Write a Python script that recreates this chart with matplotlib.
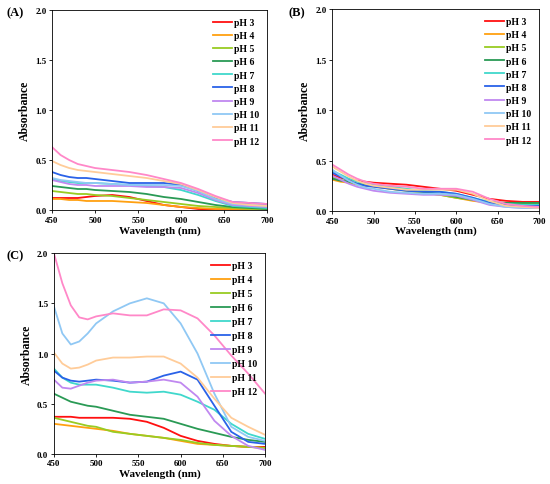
import matplotlib
matplotlib.use('Agg')
import matplotlib.pyplot as plt

plt.rcParams['font.family'] = ['Liberation Serif', 'DejaVu Serif']
plt.rcParams['font.weight'] = 'bold'

wl = [450, 460, 470, 480, 490, 500, 520, 540, 560, 580, 600, 620, 640, 660, 680, 700]
labels = ['pH 3', 'pH 4', 'pH 5', 'pH 6', 'pH 7', 'pH 8', 'pH 9', 'pH 10', 'pH 11', 'pH 12']
colors = ['#ff1010', '#ffa010', '#99cc22', '#2a9a55', '#40d8cc', '#2a62e8',
          '#c088f0', '#90c8f4', '#ffcc99', '#ff88c8']

# panel (A)
absA = [
    [.12, .12, .12, .12, .13, .14, .15, .13, .09, .05, .03, .01, .005, 0, 0, 0],
    [.11, .11, .10, .10, .09, .09, .09, .08, .07, .05, .03, .02, .01, .01, .01, .01],
    [.19, .18, .17, .16, .16, .15, .14, .12, .10, .08, .06, .04, .03, .02, .01, .01],
    [.24, .23, .22, .21, .21, .20, .19, .18, .16, .13, .11, .08, .05, .03, .02, .01],
    [.31, .29, .28, .27, .27, .27, .26, .25, .24, .23, .20, .15, .09, .04, .03, .02],
    [.38, .35, .33, .32, .32, .31, .29, .27, .27, .27, .25, .19, .12, .08, .07, .06],
    [.30, .28, .26, .25, .25, .24, .24, .24, .23, .23, .22, .17, .10, .05, .04, .03],
    [.32, .30, .29, .28, .27, .27, .26, .25, .25, .25, .24, .19, .11, .06, .05, .04],
    [.49, .45, .42, .40, .39, .38, .36, .34, .32, .29, .26, .20, .13, .07, .05, .04],
    [.63, .55, .50, .46, .44, .42, .40, .38, .35, .31, .27, .21, .14, .08, .07, .06],
]

# panel (B)
absB = [
    [.36, .33, .31, .30, .29, .28, .27, .26, .24, .22, .20, .16, .12, .10, .09, .09],
    [.31, .29, .28, .26, .25, .24, .22, .20, .18, .16, .13, .10, .08, .07, .06, .06],
    [.33, .31, .29, .27, .26, .25, .22, .20, .18, .16, .13, .11, .08, .07, .07, .07],
    [.32, .30, .29, .27, .26, .25, .23, .21, .19, .17, .14, .11, .09, .08, .08, .08],
    [.40, .36, .32, .29, .27, .26, .24, .22, .20, .19, .17, .13, .09, .07, .06, .06],
    [.38, .34, .30, .27, .25, .24, .22, .20, .19, .19, .17, .13, .08, .06, .05, .05],
    [.35, .31, .27, .24, .22, .20, .18, .17, .16, .16, .15, .11, .06, .04, .03, .03],
    [.41, .35, .30, .26, .23, .22, .19, .18, .17, .17, .16, .12, .07, .04, .03, .03],
    [.44, .39, .34, .30, .27, .25, .23, .21, .21, .21, .21, .17, .10, .05, .04, .03],
    [.46, .41, .36, .32, .29, .27, .25, .24, .22, .22, .22, .19, .12, .07, .05, .04],
]

# panel (C)
absC = [
    [.37, .37, .37, .36, .36, .36, .36, .35, .32, .26, .18, .13, .10, .08, .07, .07],
    [.30, .29, .28, .27, .26, .25, .23, .20, .18, .16, .13, .10, .09, .08, .07, .06],
    [.36, .34, .32, .30, .28, .27, .22, .20, .18, .16, .14, .11, .09, .08, .07, .06],
    [.60, .56, .52, .50, .48, .47, .43, .39, .37, .35, .30, .25, .21, .17, .14, .12],
    [.85, .76, .71, .69, .69, .69, .66, .62, .61, .62, .59, .52, .44, .30, .20, .15],
    [.83, .76, .73, .72, .73, .74, .73, .71, .72, .78, .82, .74, .48, .22, .12, .10],
    [.74, .66, .65, .68, .71, .73, .74, .71, .72, .74, .71, .57, .33, .18, .08, .04],
    [1.47, 1.20, 1.09, 1.12, 1.20, 1.30, 1.42, 1.50, 1.55, 1.50, 1.30, 1.00, .60, .27, .17, .13],
    [1.01, .90, .85, .86, .89, .93, .96, .96, .97, .97, .90, .76, .55, .36, .27, .19],
    [2.0, 1.70, 1.48, 1.36, 1.34, 1.37, 1.40, 1.38, 1.38, 1.44, 1.43, 1.35, 1.18, .98, .80, .60],
]

fig = plt.figure(figsize=(5.5, 4.85), dpi=100)

def panel(rect, data, tag, tagpos, spacing):
    ax = fig.add_axes(rect)
    for i in range(len(labels)):
        ax.plot(wl, data[i], color=colors[i], lw=1.3, label=labels[i])
    ax.set_xlim(450, 700)
    ax.set_ylim(0, 2.0)
    ax.set_xticks([450, 500, 550, 600, 650, 700])
    ax.set_yticks([0, 0.5, 1.0, 1.5, 2.0])
    ax.set_yticklabels(['0.0', '0.5', '1.0', '1.5', '2.0'])
    ax.tick_params(labelsize=6.5, length=2, width=0.6, pad=2)
    for s in ax.spines.values():
        s.set_linewidth(0.6)
    ax.set_xlabel('Wavelength (nm)', fontsize=8, fontweight='bold', labelpad=1)
    ax.set_ylabel('Absorbance', fontsize=8.5, fontweight='bold', labelpad=3)
    ax.legend(loc='upper right', frameon=False, fontsize=7, handlelength=1.9,
              labelspacing=spacing, handletextpad=0.25, borderaxespad=0.4)
    fig.text(tagpos[0], tagpos[1], tag, fontsize=9, fontweight='bold', va='top')
    return ax

panel([0.0945, 0.565, 0.391, 0.412], absA, '(A)', (0.012, 0.985), 0.43)
panel([0.604, 0.563, 0.376, 0.416], absB, '(B)', (0.525, 0.985), 0.43)
panel([0.098, 0.062, 0.384, 0.414], absC, '(C)', (0.012, 0.483), 0.52)

fig.savefig('out.png', dpi=100)
